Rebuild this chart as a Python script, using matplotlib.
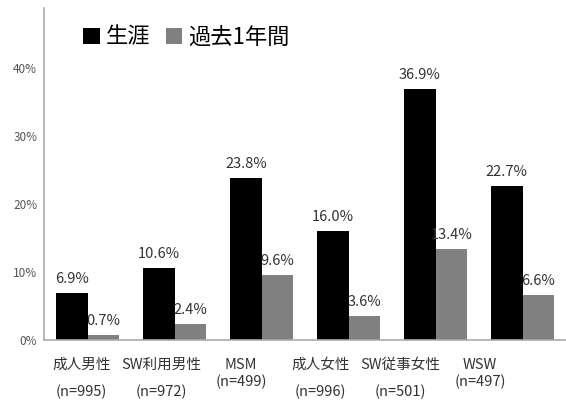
import numpy as np
import matplotlib
matplotlib.use("Agg")
import matplotlib.pyplot as plt
from matplotlib.ticker import FuncFormatter

plt.rcParams['font.family'] = ['Noto Sans CJK JP', 'DejaVu Sans']

# data
groups = ["成人男性", "SW利用男性", "MSM", "成人女性", "SW従事女性", "WSW"]
n_labels = ["(n=995)", "(n=972)", "(n=499)", "(n=996)", "(n=501)", "(n=497)"]
lifetime = [6.9, 10.6, 23.8, 16.0, 36.9, 22.7]
past_year = [0.7, 2.4, 9.6, 3.6, 13.4, 6.6]
series_names = ["生涯", "過去1年間"]

x = np.arange(len(groups))
w = 0.36

fig = plt.figure(figsize=(5.66, 4.0), dpi=100)
ax = fig.add_axes([0.078, 0.15, 0.922, 0.83])

b1 = ax.bar(x - w / 2, np.array(lifetime) / 100, w, color="#000000", label=series_names[0])
b2 = ax.bar(x + w / 2, np.array(past_year) / 100, w, color="#808080", label=series_names[1])

for bars, vals in [(b1, lifetime), (b2, past_year)]:
    for r, v in zip(bars, vals):
        ax.annotate(f"{v:.1f}%", (r.get_x() + r.get_width() / 2, r.get_height()),
                    xytext=(0, 5), textcoords="offset points",
                    ha="center", va="bottom", fontsize=10.5, color="#333333")

ax.set_xlim(-0.5, 5.5)
ax.set_ylim(0, 0.488)
ax.set_yticks([0, 0.1, 0.2, 0.3, 0.4])
ax.yaxis.set_major_formatter(FuncFormatter(lambda v, p: f"{v * 100:.0f}%"))
ax.tick_params(axis="y", length=0, pad=5, labelsize=8.5, labelcolor="#555555")

# category labels sit slightly left of each group in the reference
lx = x - 0.07 - 0.084 * x
ax.set_xticks(lx)
ax.set_xticklabels([f"{g}\n{n}" for g, n in zip(groups, n_labels)])
ax.tick_params(axis="x", length=0, pad=13, labelsize=10.5, labelcolor="#333333")
for lab, g in zip(ax.get_xticklabels(), groups):
    lab.set_linespacing(1.2 if g.isascii() else 2.05)

for s in ["top", "right"]:
    ax.spines[s].set_visible(False)
for s in ["left", "bottom"]:
    ax.spines[s].set_color("#aaaaaa")
    ax.spines[s].set_linewidth(1.2)

fig.legend(handles=[b1, b2], labels=series_names, loc="center left",
           bbox_to_anchor=(0.112, 0.907), ncol=2, frameon=False,
           fontsize=16, handlelength=0.75, handleheight=0.75,
           handletextpad=0.25, columnspacing=0.7)

fig.savefig("out.png", dpi=100)
